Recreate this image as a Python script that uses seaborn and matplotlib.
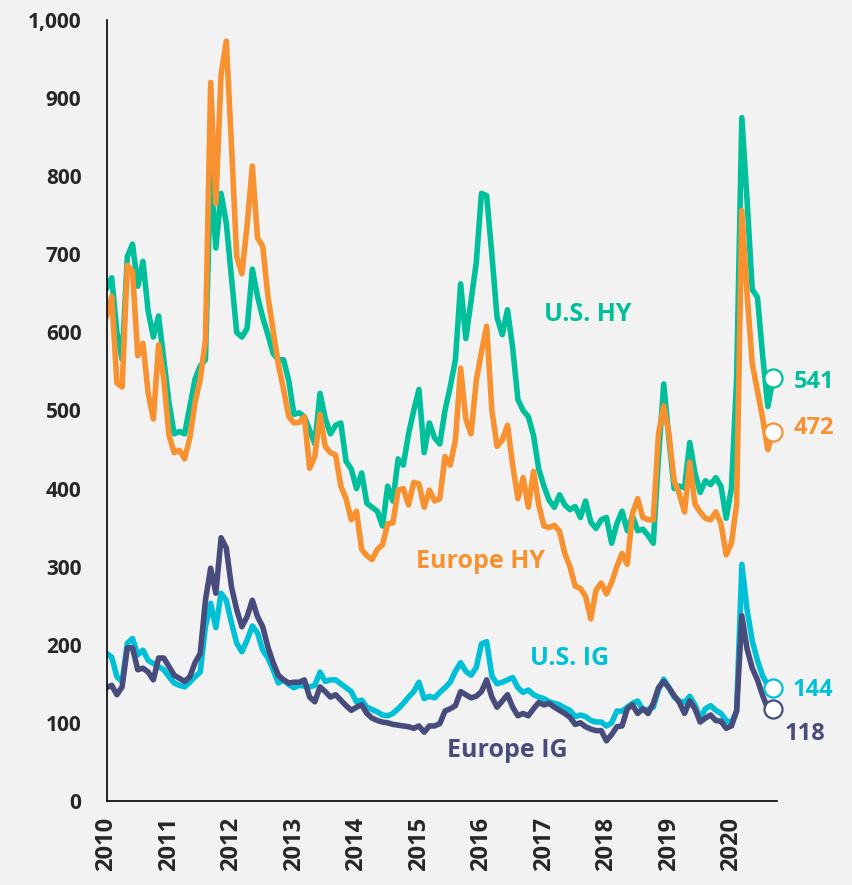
import numpy as np
import pandas as pd
import matplotlib.pyplot as plt
import seaborn as sns

# monthly spreads (bps), Jan 2010 - Sep 2020
us_hy = [656, 670, 600, 565, 697, 713, 659, 691, 627, 594, 621, 565,
         510, 470, 473, 470, 505, 540, 557, 565, 805, 708, 778, 740,
         670, 600, 594, 605, 681, 646, 619, 597, 573, 565, 565, 538,
         495, 497, 492, 475, 457, 522, 490, 470, 481, 484, 435, 425,
         400, 420, 381, 376, 371, 352, 403, 384, 438, 430, 470, 500,
         527, 446, 484, 465, 457, 500, 530, 565, 662, 592, 640, 689,
         778, 775, 700, 619, 597, 629, 580, 514, 500, 492, 468, 425,
         403, 385, 376, 392, 379, 373, 377, 363, 384, 357, 349, 360,
         363, 330, 355, 371, 346, 365, 346, 348, 340, 330, 440, 534,
         464, 400, 403, 401, 459, 420, 395, 410, 405, 414, 403, 362,
         400, 540, 875, 770, 655, 645, 570, 505, 541]

eu_hy = [620, 646, 535, 530, 686, 678, 570, 586, 522, 489, 584, 540,
         468, 446, 449, 438, 465, 510, 540, 590, 920, 765, 930, 973,
         840, 697, 675, 737, 813, 721, 710, 646, 602, 559, 527, 492,
         484, 485, 492, 426, 441, 495, 454, 446, 443, 403, 387, 360,
         371, 322, 314, 309, 322, 328, 355, 356, 398, 400, 379, 408,
         406, 376, 398, 384, 387, 441, 430, 462, 554, 489, 470, 538,
         575, 608, 500, 454, 462, 481, 430, 387, 414, 376, 422, 379,
         352, 350, 353, 345, 317, 300, 275, 272, 262, 233, 270, 279,
         265, 280, 300, 317, 303, 368, 387, 363, 360, 360, 470, 506,
         470, 410, 393, 370, 434, 380, 370, 362, 360, 370, 355, 315,
         330, 380, 756, 650, 560, 525, 490, 450, 472]

us_ig = [189, 184, 159, 153, 202, 208, 187, 193, 180, 176, 172, 168,
         159, 151, 148, 146, 152, 159, 165, 223, 253, 222, 266, 257,
         228, 202, 191, 206, 224, 215, 193, 183, 168, 151, 155, 149,
         145, 148, 147, 146, 148, 165, 153, 155, 155, 150, 145, 140,
         127, 129, 120, 117, 114, 110, 109, 112, 118, 125, 133, 140,
         152, 131, 134, 132, 139, 145, 152, 166, 177, 166, 161, 171,
         201, 204, 160, 150, 152, 155, 158, 145, 139, 142, 136, 133,
         131, 127, 125, 123, 119, 116, 108, 110, 108, 103, 101, 101,
         96, 100, 115, 115, 120, 125, 128, 117, 117, 120, 142, 156,
         145, 133, 128, 126, 134, 123, 106, 118, 122, 116, 112, 103,
         100, 115, 303, 245, 205, 180, 160, 148, 144]

eu_ig = [145, 148, 136, 146, 196, 196, 168, 170, 165, 155, 183, 183,
         172, 161, 157, 153, 159, 177, 189, 257, 298, 266, 337, 324,
         274, 245, 223, 236, 257, 236, 223, 197, 177, 161, 155, 151,
         152, 152, 155, 133, 127, 146, 140, 133, 136, 129, 122, 116,
         120, 123, 112, 106, 103, 101, 100, 98, 97, 96, 95, 93,
         96, 88, 96, 96, 99, 115, 118, 122, 140, 136, 132, 134,
         140, 155, 133, 120, 128, 136, 120, 109, 112, 109, 118, 126,
         123, 125, 120, 116, 112, 107, 98, 100, 95, 92, 90, 90,
         77, 85, 95, 96, 118, 123, 112, 118, 112, 125, 145, 153,
         145, 135, 126, 112, 128, 118, 101, 106, 110, 103, 102, 93,
         96, 115, 237, 195, 170, 155, 135, 118, 118]

names = ["U.S. HY", "Europe HY", "U.S. IG", "Europe IG"]
colors = ["#00BF9B", "#F8912F", "#00C0D8", "#474C7D"]
years = list(range(2010, 2021))
yticks = list(range(0, 1001, 100))

series = [us_hy, eu_hy, us_ig, eu_ig]
frames = []
for name, vals in zip(names, series):
    t = 2010 + np.arange(len(vals)) / 12
    frames.append(pd.DataFrame({"date": t, "spread": vals, "series": name}))
df = pd.concat(frames, ignore_index=True)

sns.set_style("white")
plt.rcParams['font.family'] = ['Open Sans', 'DejaVu Sans']

bg = "#F2F2F2"
fig = plt.figure(figsize=(8.52, 8.85), dpi=100, facecolor=bg)
ax = fig.add_axes([0.125, 0.095, 0.787, 0.8824])
ax.set_facecolor(bg)

sns.lineplot(data=df, x="date", y="spread", hue="series", hue_order=names,
             palette=colors, linewidth=4.0, legend=False, ax=ax)
for line in ax.lines:
    line.set_solid_joinstyle("round")
    line.set_solid_capstyle("round")

# end-point circles
last = df.groupby("series", sort=False).tail(1)
for (_, row), c in zip(last.iterrows(), colors):
    ax.plot(row["date"], row["spread"], "o", ms=13, mfc="white", mec=c,
            mew=1.6, zorder=5, clip_on=False)

# end labels
end_pos = [(2021.0, 537), (2021.0, 478), (2020.98, 142), (2020.85, 86)]
for vals, c, (tx, ty) in zip(series, colors, end_pos):
    ax.text(tx, ty, str(vals[-1]), color=c, fontsize=17, fontweight="bold",
            va="center", ha="left", clip_on=False)

# series labels
lab_pos = [(2017.70, 623), (2015.98, 307), (2017.41, 183), (2016.41, 65)]
for name, c, (tx, ty) in zip(names, colors, lab_pos):
    ax.text(tx, ty, name, color=c, fontsize=18, fontweight="bold",
            ha="center", va="center")

ax.set_xlim(2010, 2020.73)
ax.set_ylim(0, 1000)
ax.set_xticks(years)
ax.set_xticklabels([str(y) for y in years], rotation=90, fontsize=17,
                   fontweight="bold")
ax.set_yticks(yticks)
ax.set_yticklabels([f"{v:,}" for v in yticks], fontsize=15,
                   fontweight="bold")
ax.set_xlabel("")
ax.set_ylabel("")
sns.despine(ax=ax)
for s in ["left", "bottom"]:
    ax.spines[s].set_color("black")
    ax.spines[s].set_linewidth(1.2)
ax.tick_params(axis="y", length=6, width=1.1, color="black", pad=12)
ax.tick_params(axis="x", length=4.5, width=1.1, color="black", pad=7)

fig.savefig("out.png", dpi=100, facecolor=bg)
